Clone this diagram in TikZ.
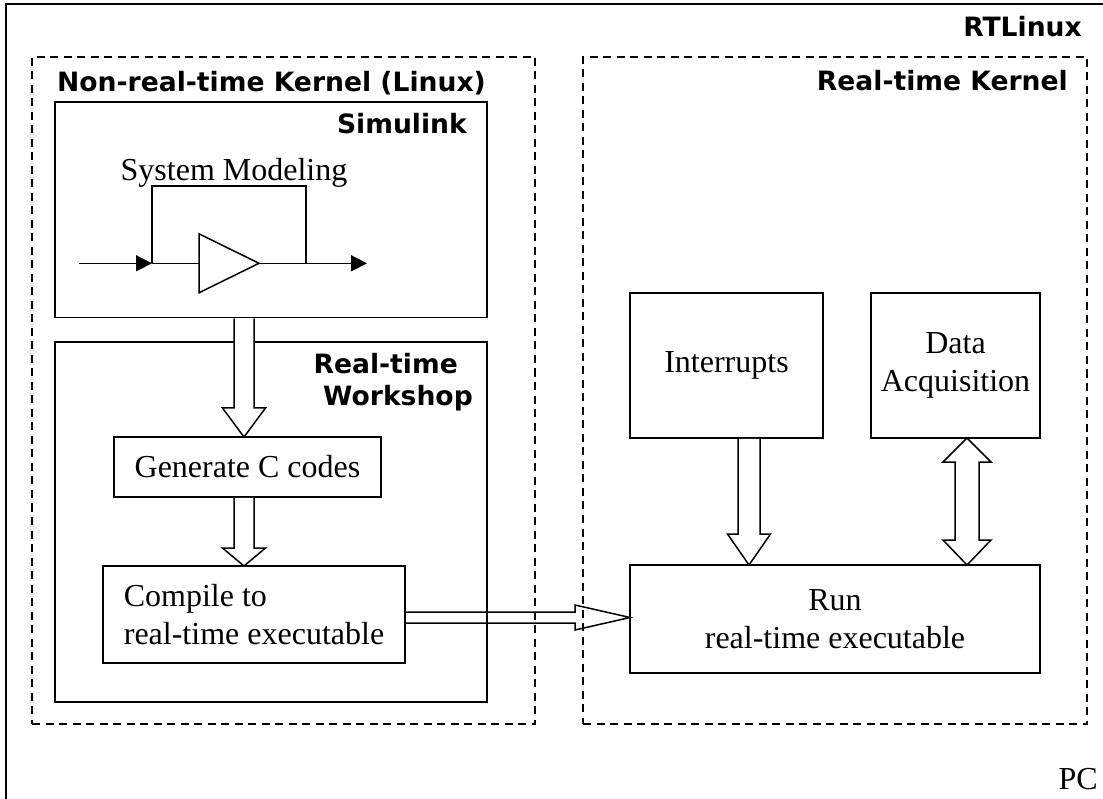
\documentclass[tikz,border=0pt]{standalone}
\usepackage{fontspec}
\setmainfont{Liberation Serif}
\newfontfamily\lblfont{DejaVu Sans}
\usetikzlibrary{calc,arrows.meta}
\begin{document}
\begin{tikzpicture}[x=1pt,y=-1pt,
  box/.style={draw, line width=1.8pt, rectangle, inner sep=0pt, outer sep=0pt, align=center, font=\fontsize{32}{38}\selectfont},
  dashbox/.style={draw, line width=1.8pt, dash pattern=on 8pt off 5.5pt, rectangle, inner sep=0pt, outer sep=0pt},
  lbl/.style={font=\lblfont\bfseries\fontsize{26.6}{32}\selectfont, inner sep=0pt, anchor=base east},
  txt/.style={font=\fontsize{32}{38}\selectfont, inner sep=0pt},
  blk/.style={draw, line width=1.5pt, fill=white, line join=miter},
  blkopen/.style={draw, line width=1.5pt, line join=miter},
  sig/.style={line width=1.5pt},
  tip/.style={-{Triangle[length=16pt,width=16pt]}}
]
\clip (0,0) rectangle (1103,799);
% outer PC frame (extends past the right and bottom edges)
\node[box, anchor=north west, minimum width=1110pt, minimum height=812pt] (pc) at (6,4) {};
% dashed kernels
\node[dashbox, minimum width=503pt, minimum height=667pt] (nrt) at (283.5,390.5) {};
\node[dashbox, minimum width=504pt, minimum height=667pt] (rtk) at (835,390.5) {};
% boxes
\node[box, minimum width=432pt, minimum height=215.5pt] (sim) at (271,209.75) {};
\node[box, minimum width=432pt, minimum height=360pt] (rtw) at (271,522) {};
\node[box, minimum width=267pt, minimum height=60pt] (gen) at (247.5,467) {Generate C codes};
\node[box, minimum width=302pt, minimum height=97pt, align=left] (comp) at (254,614.5) {Compile to\\real-time executable};
\node[box, minimum width=193pt, minimum height=145pt] (intr) at (726.5,365.5) {Interrupts};
\node[box, minimum width=169pt, minimum height=145pt] (daq) at (955.5,365.5) {Data\\Acquisition};
\node[box, minimum width=410pt, minimum height=108pt] (run) at (835,619) {Run\\real-time executable};
% labels
\node[lbl] (lrtl) at (1082,37) {RTLinux};
\node[lbl, anchor=base west] (lnrt) at (57,92) {Non-real-time Kernel (Linux)};
\node[lbl] (lrtk) at (1068,91) {Real-time Kernel};
\node[lbl] (lsim) at (467,134) {Simulink};
\node[lbl] (lrt) at (458,374) {Real-time};
\node[lbl] (lws) at (473,406) {Workshop};
\node[txt, anchor=base east] (lpc) at (1098,789) {PC};
% system modeling sketch
\node[txt, anchor=base] (sm) at (234,181) {System Modeling};
\coordinate (in0) at (78.6,263.3);
\coordinate (fbl) at (152,263.3);
\coordinate (ampL) at (199,263.3);
\coordinate (ampR) at (259,263.3);
\coordinate (fbr) at (306,263.3);
\coordinate (out0) at (367,263.3);
\draw[sig,tip] (in0) -- (fbl);
\draw[sig] (fbl) -- (ampL);
\draw[sig, line join=miter] ($(ampL)+(0,-29.5)$) -- (ampR) -- ($(ampL)+(0,29.5)$) -- cycle;
\draw[sig] (ampR) -- (fbr);
\draw[sig,tip] (fbr) -- (out0);
\draw[sig] (fbl) -- ++(0,-77.5) -| (fbr);
% block arrow: Simulink -> Generate
\coordinate (x1) at (244,0);
\coordinate (a1s) at (x1 |- sim.south);
\coordinate (a1e) at (x1 |- gen.north);
\draw[blk] ($(a1s)+(-10,0.9)$) -- ($(a1e)+(-10,-29)$) -- ($(a1e)+(-21.5,-29)$) -- (a1e) -- ($(a1e)+(21.5,-29)$) -- ($(a1e)+(10,-29)$) -- ($(a1s)+(10,0.9)$);
% Generate -> Compile
\coordinate (a2s) at (x1 |- gen.south);
\coordinate (a2e) at (x1 |- comp.north);
\draw[blk] ($(a2s)+(-10,0.9)$) -- ($(a2e)+(-10,-18)$) -- ($(a2e)+(-21.5,-18)$) -- (a2e) -- ($(a2e)+(21.5,-18)$) -- ($(a2e)+(10,-18)$) -- ($(a2s)+(10,0.9)$);
% Interrupts -> Run
\coordinate (x3) at (749,0);
\coordinate (a3s) at (x3 |- intr.south);
\coordinate (a3e) at (x3 |- run.north);
\draw[blk] ($(a3s)+(-11,0.9)$) -- ($(a3e)+(-11,-31)$) -- ($(a3e)+(-21.5,-31)$) -- (a3e) -- ($(a3e)+(21.5,-31)$) -- ($(a3e)+(11,-31)$) -- ($(a3s)+(11,0.9)$);
% Data Acquisition <-> Run
\coordinate (x4) at (967,0);
\coordinate (a4t) at (x4 |- daq.south);
\coordinate (a4b) at (x4 |- run.north);
\draw[blk] (a4t) -- ($(a4t)+(24,24)$) -- ($(a4t)+(12,24)$) -- ($(a4b)+(12,-25)$) -- ($(a4b)+(24,-25)$) -- (a4b) -- ($(a4b)+(-24,-25)$) -- ($(a4b)+(-12,-25)$) -- ($(a4t)+(-12,24)$) -- ($(a4t)+(-24,24)$) -- cycle;
% Compile -> Run
\coordinate (hy) at (0,617.5);
\coordinate (a5s) at (comp.east |- hy);
\coordinate (a5e) at (run.west |- hy);
\draw[blkopen] ($(a5s)+(0,-5.5)$) -- ($(a5e)+(-55,-5.5)$) -- ($(a5e)+(-55,-12.5)$) -- (a5e) -- ($(a5e)+(-55,12.5)$) -- ($(a5e)+(-55,5.5)$) -- ($(a5s)+(0,5.5)$);
\end{tikzpicture}
\end{document}
